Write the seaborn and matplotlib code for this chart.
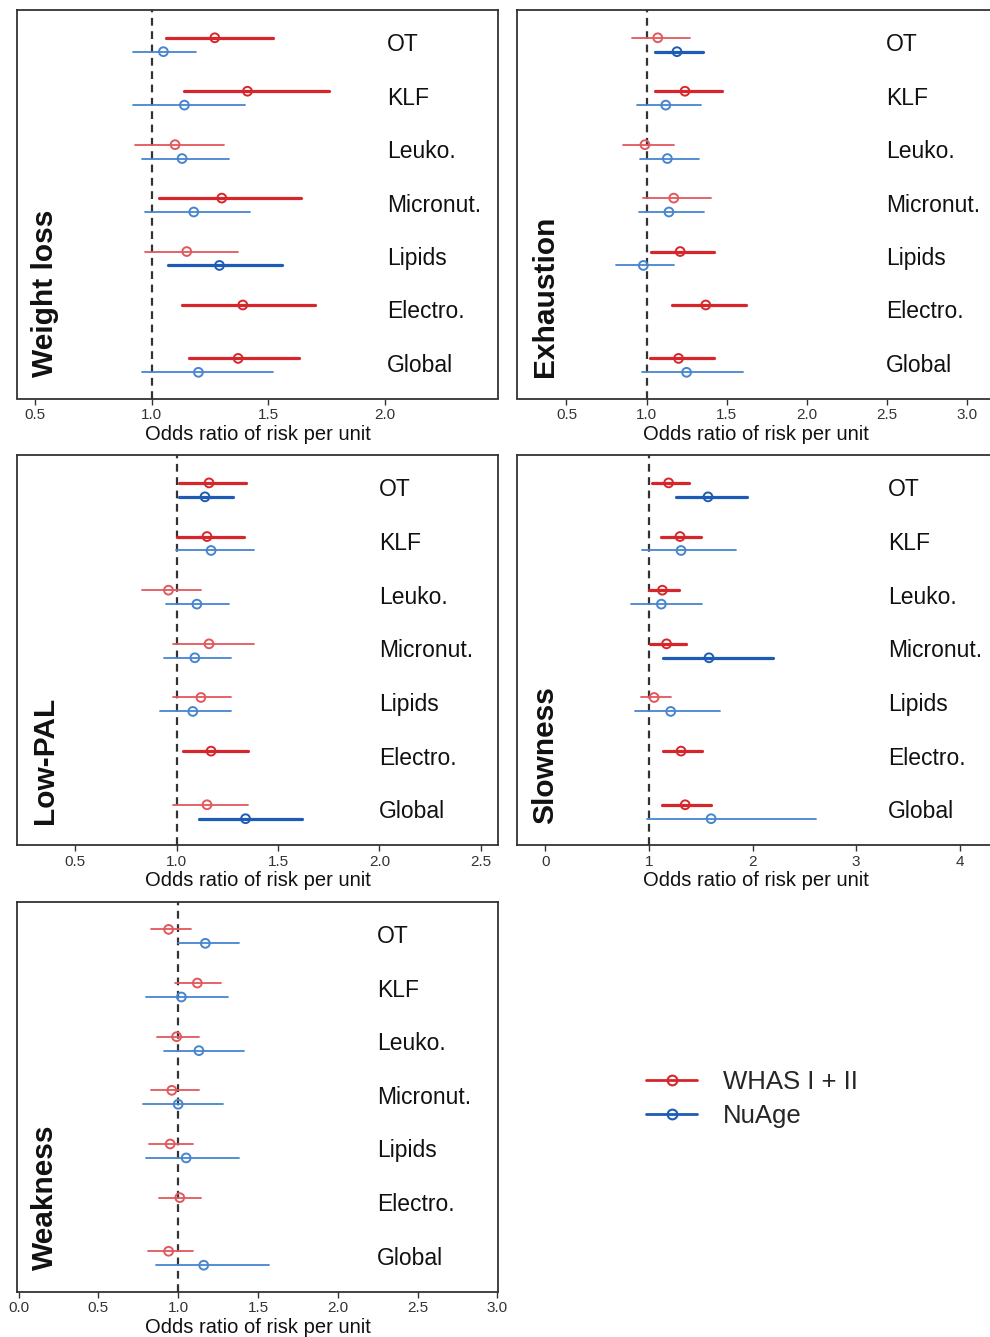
import pandas as pd
import matplotlib
matplotlib.use("Agg")
import matplotlib.pyplot as plt
import matplotlib.transforms as mtransforms
from matplotlib.lines import Line2D
import seaborn as sns


CATEGORIES = ["OT", "KLF", "Leuko.", "Micronut.", "Lipids", "Electro.", "Global"]
COHORTS = ["WHAS I + II", "NuAge"]

# (odds ratio, lower 95% CI, upper 95% CI) per category, None = no estimate
WEIGHT_LOSS_WHAS = [(1.27, 1.06, 1.52), (1.41, 1.14, 1.76), (1.10, 0.93, 1.31),
                    (1.30, 1.03, 1.64), (1.15, 0.97, 1.37), (1.39, 1.13, 1.70),
                    (1.37, 1.16, 1.63)]
WEIGHT_LOSS_NUAGE = [(1.05, 0.92, 1.19), (1.14, 0.92, 1.40), (1.13, 0.96, 1.33),
                     (1.18, 0.97, 1.42), (1.29, 1.07, 1.56), None,
                     (1.20, 0.96, 1.52)]

EXHAUSTION_WHAS = [(1.07, 0.91, 1.27), (1.24, 1.05, 1.47), (0.99, 0.85, 1.17),
                   (1.17, 0.98, 1.40), (1.21, 1.03, 1.42), (1.37, 1.16, 1.62),
                   (1.20, 1.02, 1.42)]
EXHAUSTION_NUAGE = [(1.19, 1.05, 1.35), (1.12, 0.94, 1.34), (1.13, 0.96, 1.33),
                    (1.14, 0.95, 1.36), (0.98, 0.81, 1.17), None,
                    (1.25, 0.97, 1.60)]

LOW_PAL_WHAS = [(1.16, 1.01, 1.34), (1.15, 1.002, 1.33), (0.96, 0.83, 1.12),
                (1.16, 0.98, 1.38), (1.12, 0.98, 1.27), (1.17, 1.03, 1.35),
                (1.15, 0.98, 1.35)]
LOW_PAL_NUAGE = [(1.14, 1.01, 1.28), (1.17, 0.998, 1.38), (1.10, 0.95, 1.26),
                 (1.09, 0.94, 1.27), (1.08, 0.92, 1.27), None,
                 (1.34, 1.11, 1.62)]

SLOWNESS_WHAS = [(1.19, 1.03, 1.39), (1.30, 1.12, 1.50), (1.13, 1.004, 1.29),
                 (1.17, 1.01, 1.36), (1.05, 0.92, 1.21), (1.31, 1.14, 1.51),
                 (1.35, 1.13, 1.60)]
SLOWNESS_NUAGE = [(1.57, 1.26, 1.95), (1.31, 0.93, 1.84), (1.12, 0.83, 1.51),
                  (1.58, 1.14, 2.20), (1.21, 0.87, 1.69), None,
                  (1.60, 0.98, 2.61)]

WEAKNESS_WHAS = [(0.94, 0.83, 1.08), (1.12, 0.98, 1.27), (0.99, 0.87, 1.13),
                 (0.96, 0.83, 1.13), (0.95, 0.82, 1.09), (1.01, 0.88, 1.14),
                 (0.94, 0.81, 1.09)]
WEAKNESS_NUAGE = [(1.17, 0.996, 1.38), (1.02, 0.80, 1.31), (1.13, 0.91, 1.41),
                  (1.00, 0.78, 1.28), (1.05, 0.80, 1.38), None,
                  (1.16, 0.86, 1.57)]

COLORS = {
    ("WHAS I + II", True): "#d7262b",
    ("WHAS I + II", False): "#e2585c",
    ("NuAge", True): "#1d5bb6",
    ("NuAge", False): "#4785d2",
}


def build_panel_frame(whas, nuage):
    rows = []
    for cohort, values, offset in [(COHORTS[0], whas, -0.13), (COHORTS[1], nuage, 0.13)]:
        for i, (cat, v) in enumerate(zip(CATEGORIES, values)):
            if v is None:
                continue
            est, lo, hi = v
            sig = lo > 1 or hi < 1
            rows.append({"category": cat, "cohort": cohort, "est": est,
                         "lo": lo, "hi": hi, "y": i + offset, "sig": sig,
                         "group": f"{cohort}|{sig}", "seg": f"{cohort}-{cat}"})
    return pd.DataFrame(rows)


def draw_panel(ax, whas, nuage, title, xlim, ticks, fmt, label_x):
    df = build_panel_frame(whas, nuage)
    seg = pd.concat([df.assign(x=df["lo"]), df.assign(x=df["hi"])])
    palette = {f"{c}|{s}": col for (c, s), col in COLORS.items()}
    sizes = {f"{c}|{s}": (2.3 if s else 1.3) for (c, s) in COLORS}

    ax.axvline(1.0, color="#333333", ls=(0, (3.5, 2.5)), lw=1.6, zorder=1)
    sns.lineplot(data=seg, x="x", y="y", hue="group", size="group",
                 palette=palette, sizes=sizes, units="seg", estimator=None,
                 sort=False, legend=False, ax=ax, zorder=2)
    point_colors = [COLORS[(c, s)] for c, s in zip(df["cohort"], df["sig"])]
    ax.scatter(df["est"], df["y"], s=40, facecolors="none",
               edgecolors=point_colors, linewidths=1.4, zorder=3)

    ax.set_xlim(*xlim)
    ax.set_ylim(6.62, -0.65)
    ax.set_yticks([])
    ax.set_ylabel("")
    ax.set_xticks(ticks)
    ax.set_xticklabels([fmt.format(t) for t in ticks])
    ax.tick_params(axis="x", length=4, width=1, pad=3, labelsize=11,
                   colors="#333333", labelcolor="#333333")
    ax.set_xlabel("Odds ratio of risk per unit", fontsize=14.5, labelpad=2,
                  color="#111111")
    for spine in ax.spines.values():
        spine.set_visible(True)
        spine.set_color("#333333")
        spine.set_linewidth(1.3)

    trans = mtransforms.blended_transform_factory(ax.transAxes, ax.transData)
    for i, cat in enumerate(CATEGORIES):
        ax.text(label_x, i, cat, transform=trans, ha="left", va="center",
                fontsize=16.5, color="#111111")
    ax.text(0.058, 0.055, title, transform=ax.transAxes, rotation=90,
            ha="center", va="bottom", fontsize=21.5, fontweight="bold",
            color="#111111")


sns.set_theme(style="ticks")
plt.rcParams["font.family"] = ["Liberation Sans", "DejaVu Sans"]

W, H = 990, 1337
fig = plt.figure(figsize=(W / 100, H / 100), dpi=100)


def axes_at(x0, y0, x1, y1):
    return fig.add_axes([x0 / W, 1 - y1 / H, (x1 - x0) / W, (y1 - y0) / H])


ax1 = axes_at(17, 10, 498, 398.5)
ax2 = axes_at(517, 10, 994, 398.5)
ax3 = axes_at(17, 455, 498, 845)
ax4 = axes_at(517, 455, 994, 845)
ax5 = axes_at(17, 901.5, 498, 1291.5)

draw_panel(ax1, WEIGHT_LOSS_WHAS, WEIGHT_LOSS_NUAGE, "Weight loss",
           (0.423, 2.483), [0.5, 1.0, 1.5, 2.0], "{:.1f}", 0.769)
draw_panel(ax2, EXHAUSTION_WHAS, EXHAUSTION_NUAGE, "Exhaustion",
           (0.191, 3.170), [0.5, 1.0, 1.5, 2.0, 2.5, 3.0], "{:.1f}", 0.774)
draw_panel(ax3, LOW_PAL_WHAS, LOW_PAL_NUAGE, "Low-PAL",
           (0.213, 2.585), [0.5, 1.0, 1.5, 2.0, 2.5], "{:.1f}", 0.753)
draw_panel(ax4, SLOWNESS_WHAS, SLOWNESS_NUAGE, "Slowness",
           (-0.273, 4.33), [0, 1, 2, 3, 4], "{:.0f}", 0.778)
draw_panel(ax5, WEAKNESS_WHAS, WEAKNESS_NUAGE, "Weakness",
           (-0.01, 3.004), [0.0, 0.5, 1.0, 1.5, 2.0, 2.5, 3.0], "{:.1f}", 0.749)

handles = [
    Line2D([], [], color=COLORS[("WHAS I + II", True)], lw=2, marker="o",
           markersize=7, markerfacecolor="none", markeredgewidth=1.5),
    Line2D([], [], color=COLORS[("NuAge", True)], lw=2, marker="o",
           markersize=7, markerfacecolor="none", markeredgewidth=1.5),
]
fig.legend(handles, COHORTS, loc="upper left",
           bbox_to_anchor=(646 / W, 1 - 1070 / H), frameon=False,
           fontsize=18.5, handlelength=2.0, handletextpad=1.0,
           labelspacing=0.38, borderpad=0, borderaxespad=0)

fig.savefig("out.png", dpi=100)
